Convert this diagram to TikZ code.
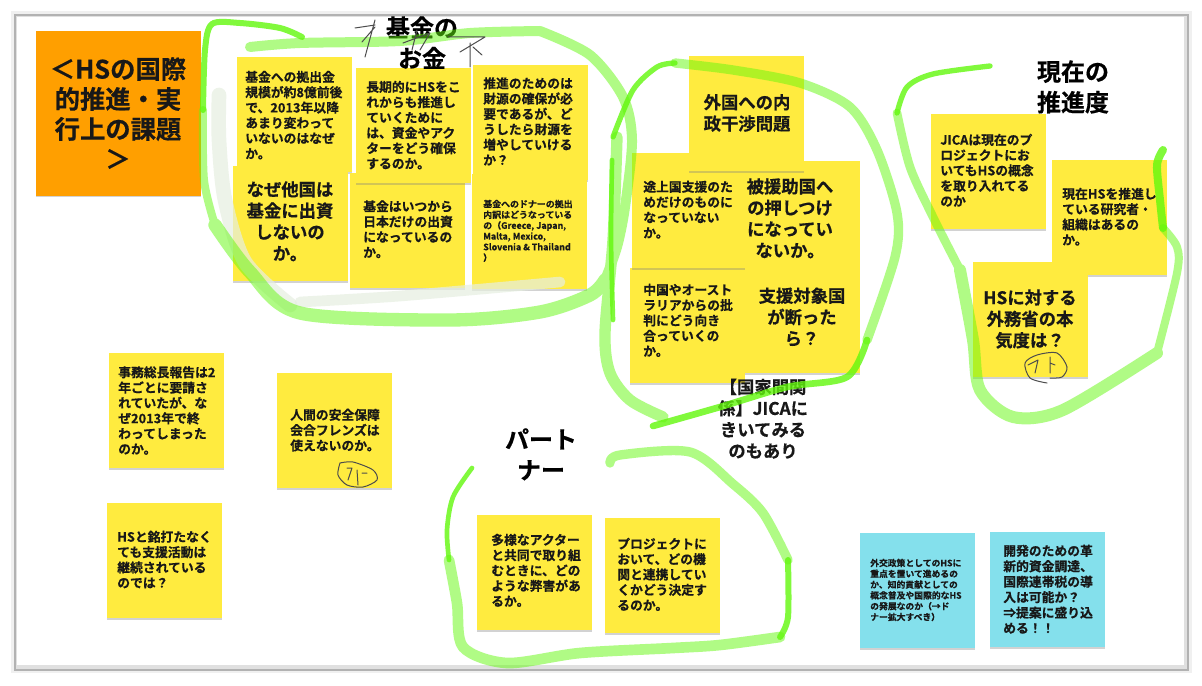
\documentclass[tikz,border=0pt]{standalone}
\usepackage{fontspec}
\setmainfont{Noto Sans CJK JP}[BoldFont={Noto Sans CJK JP Bold},BoldFeatures={FakeBold=0.5}]
\usetikzlibrary{shadows}
\definecolor{sticky}{HTML}{FFEB3F}
\definecolor{skyn}{HTML}{84E0EC}
\definecolor{orng}{HTML}{FF9F00}
\definecolor{lime}{HTML}{62F80C}
\definecolor{ink}{HTML}{181818}
\definecolor{palestroke}{HTML}{E6EFE0}
\tikzset{
 x=0.75pt,y=-0.75pt,
 softshadow/.style={drop shadow={shadow xshift=0pt,shadow yshift=-0.9pt,fill=black!50,opacity=.35}},
 note/.style={anchor=north west,inner sep=0pt,minimum width=86.3pt,minimum height=86.3pt,fill=sticky,softshadow},
 txt/.style={inner sep=0pt,text=ink},
 body/.style={txt,anchor=north west,font=\bfseries\fontsize{9.6}{11.5}\selectfont,align=left},
 big/.style={txt,font=\bfseries\fontsize{13}{16}\selectfont,align=center},
 small/.style={txt,anchor=north west,font=\bfseries\fontsize{6.7}{8.05}\selectfont,align=left},
 head/.style={inner sep=0pt,anchor=north,font=\bfseries\fontsize{18}{23}\selectfont,text=black,align=center},
 mk/.style={draw=lime,line width=#1,line cap=round,line join=round},
 pen/.style={draw=black!70,line width=.75pt,line cap=round,line join=round},
}
\begin{document}
\begin{tikzpicture}
\useasboundingbox (0,0) rectangle (1202,685);
\fill[white] (0,0) rectangle (1202,685);
% frame
\fill[black!6] (11,11) rectangle (1192,673);
\fill[black!30] (14,14) rectangle (1189,671);
\fill[black!12] (16,16) rectangle (1187,669);
\fill[white] (17,17) rectangle (1184,665);
% title
\node[anchor=north west,fill=orng,minimum width=123.5pt,minimum height=123.5pt,inner sep=0pt,softshadow] (title) at (36,31) {};
\node[txt,font=\bfseries\fontsize{19}{22.5}\selectfont,align=center] (titlet) at (118,113) {＜HSの国際\\的推進・実\\行上の課題\\＞};
% fund group
\node[note] (a1) at (237,57) {};
\node[note] (a4) at (233,166) {};
\node[note] (a5) at (350,173) {};
\node[note] (a2) at (356,68) {};
\node[note] (a3) at (473,65) {};
\node[note] (a6) at (472,174) {};
\node[body] (a1t) at (245,70.6) {基金への拠出金\\規模が約8億前後\\で、2013年以降\\あまり変わって\\いないのはなぜ\\か。};
\node[body] (a2t) at (366,80.6) {長期的にHSをこ\\れからも推進し\\ていくために\\は、資金やアク\\ターをどう確保\\するのか。};
\node[body] (a3t) at (483,77) {推進のためのは\\財源の確保が必\\要であるが、ど\\うしたら財源を\\増やしていける\\か？};
\node[big,anchor=north] (a4t) at (290,181) {なぜ他国は\\基金に出資\\しないの\\か。};
\node[body] (a5t) at (363,200) {基金はいつから\\日本だけの出資\\になっているの\\か。};
\node[small] (a6t) at (483,199.5) {基金へのドナーの拠出\\内訳はどうなっている\\の（Greece, Japan,\\Malta, Mexico,\\Slovenia \& Thailand\\）};
\node[head] (fund) at (422,16) {基金の\\お金};
% intervention group
\node[note] (b3) at (745,161) {};
\node[note] (b4) at (630,268) {};
\node[note] (b2) at (632,153) {};
\node[note] (b5) at (745,258) {};
\node[note] (b1) at (689,56) {};
\node[big] (b1t) at (747,113) {外国への内\\政干渉問題};
\node[body] (b2t) at (643,180.5) {途上国支援のた\\めだけのものに\\なっていない\\か。};
\node[big,anchor=north] (b3t) at (790,178) {被援助国へ\\の押しつけ\\になってい\\ないか。};
\node[body] (b4t) at (643,283.5) {中国やオースト\\ラリアからの批\\判にどう向き\\合っていくの\\か。};
\node[big] (b5t) at (802,317) {支援対象国\\が断った\\ら？};
\node[big,anchor=north] (b6) at (763,378.5) {【国家間関\\係】JICAに\\きいてみる\\のもあり};
% current group
\node[note] (c1) at (931,114) {};
\node[note] (c2) at (1052,160) {};
\node[note] (c3) at (973,262) {};
\node[body] (c1t) at (940,133.5) {JICAは現在のプ\\ロジェクトにお\\いてもHSの概念\\を取り入れてる\\のか};
\node[body] (c2t) at (1062,187.5) {現在HSを推進し\\ている研究者・\\組織はあるの\\か。};
\node[big] (c3t) at (1030,319) {HSに対する\\外務省の本\\気度は？};
\node[head] (now) at (1073,60) {現在の\\推進度};
% loose
\node[note] (d1) at (109,353) {};
\node[body] (d1t) at (118,366) {事務総長報告は2\\年ごとに要請さ\\れていたが、な\\ぜ2013年で終\\わってしまった\\のか。};
\node[note] (d2) at (277,373) {};
\node[body] (d2t) at (290,408.5) {人間の安全保障\\会合フレンズは\\使えないのか。};
\node[note] (d3) at (107,503) {};
\node[body] (d3t) at (117,530.5) {HSと銘打たなく\\ても支援活動は\\継続されている\\のでは？};
% partner
\node[note] (e1) at (477,515) {};
\node[body] (e1t) at (491,533.5) {多様なアクター\\と共同で取り組\\むときに、どの\\ような弊害があ\\るか。};
\node[note] (e2) at (605,518) {};
\node[body] (e2t) at (617,537.5) {プロジェクトに\\おいて、どの機\\関と連携してい\\くかどう決定す\\るのか。};
\node[head] (part) at (541,428) {パート\\ナー};
% blue
\node[note,fill=skyn] (f1) at (860,533) {};
\node[small,font=\bfseries\fontsize{6.6}{8.1}\selectfont] (f1t) at (870,558.5) {外交政策としてのHSに\\重点を置いて進めるの\\か、知的貢献としての\\概念普及や国際的なHS\\の発展なのか（→ド\\ナー拡大すべき）};
\node[note,fill=skyn] (f2) at (990,532) {};
\node[body,font=\bfseries\fontsize{9.6}{11.6}\selectfont] (f2t) at (1003,544.5) {開発のための革\\新的資金調達、\\国際連帯税の導\\入は可能か？\\⇒提案に盛り込\\める！！};
% pale under-strokes
\begin{scope}[opacity=.7]
\draw[mk=11pt,draw=palestroke] plot[smooth] coordinates {(219,95) (219,140) (225,200) (245,262) (290,305)};
\draw[mk=8pt,draw=palestroke] plot[smooth] coordinates {(300,302) (400,296) (560,282)};
\end{scope}
% marker strokes, thin bright parts
\begin{scope}[transparency group,opacity=.8]
\draw[mk=4.5pt] plot[smooth] coordinates {(302,37) (280,28) (240,23) (212,24) (205,50) (203,110)};
\draw[mk=4pt] plot[smooth] coordinates {(613,137) (633,90) (657,67) (675,63)};
\draw[mk=3.5pt] plot[smooth] coordinates {(612,160) (611,240) (613,320)};
\draw[mk=4pt] plot[smooth] coordinates {(990,66) (933,74) (907,87) (897,113)};
\draw[mk=6pt] plot[smooth] coordinates {(1163,150) (1157,165) (1160,200) (1163,228)};
\draw[mk=3.5pt] plot[smooth] coordinates {(472,468) (453,497) (447,530) (449,560)};
\draw[mk=5pt] plot[smooth] coordinates {(653,426) (720,407) (787,387) (847,377) (867,340)};
\draw[mk=4.5pt] plot[smooth] coordinates {(788,560) (788,617) (780,637)};
\end{scope}
% marker strokes, broad parts
\begin{scope}[transparency group,opacity=.5]
\draw[mk=6pt] plot[smooth] coordinates {(203,110) (204,180) (215,225)};
\draw[mk=10pt] plot[smooth] coordinates {(215,225) (250,272) (300,313) (450,320) (540,312) (590,295) (605,280)};
\draw[mk=7.5pt] plot[smooth] coordinates {(605,280) (617,247) (625,207) (632,140) (623,97) (590,55) (540,31)};
\draw[mk=7.5pt] plot[smooth] coordinates {(540,31) (470,33) (400,41) (300,43) (250,47)};
\draw[mk=7pt] plot[smooth] coordinates {(675,63) (733,70) (800,83) (850,107) (877,150) (897,213) (895,257) (867,340)};
\draw[mk=8.5pt] plot[smooth] coordinates {(617,137) (613,240) (605,333) (610,373) (630,400) (663,417)};
\draw[mk=6.5pt] plot[smooth] coordinates {(897,113) (910,167) (933,217) (960,270)};
\draw[mk=9pt] plot[smooth] coordinates {(960,270) (973,340) (980,390) (1013,417) (1063,410) (1157,353)};
\draw[mk=6pt] plot[smooth] coordinates {(1157,353) (1177,273) (1177,247) (1163,228)};
\draw[mk=8pt] plot[smooth] coordinates {(449,560) (457,603) (463,647) (507,663) (580,653) (673,648) (720,645) (780,637)};
\draw[mk=7pt] plot[smooth] coordinates {(610,463) (620,455) (690,452) (733,484) (763,513) (788,560)};
\end{scope}
% handwriting
\draw[pen] (355,28) -- (375,25) (375,20) -- (365,57) (375,27) -- (362,42);
\draw[pen] (403,43) -- (430,33) -- (420,50) (417,30) -- (412,50);
\draw[pen] (448,37) -- (485,37) -- (460,52) (470,43) -- (470,67) (473,47) -- (482,55);
\draw[pen] plot[smooth] coordinates {(1047,383) (1030,378) (1025,363) (1037,355) (1057,353) (1067,367) (1062,377) (1050,378)};
\draw[pen] (1028,365) -- (1038,360) -- (1035,373) (1050,357) -- (1050,373) (1050,363) -- (1055,365);
\draw[pen] plot[smooth] coordinates {(340,463) (353,462) (373,470) (377,480) (363,487) (347,485) (338,475) (340,463)};
\draw[pen] (347,468) -- (352,468) -- (348,480) (357,470) -- (358,485) (362,473) -- (367,473);
\end{tikzpicture}
\end{document}
